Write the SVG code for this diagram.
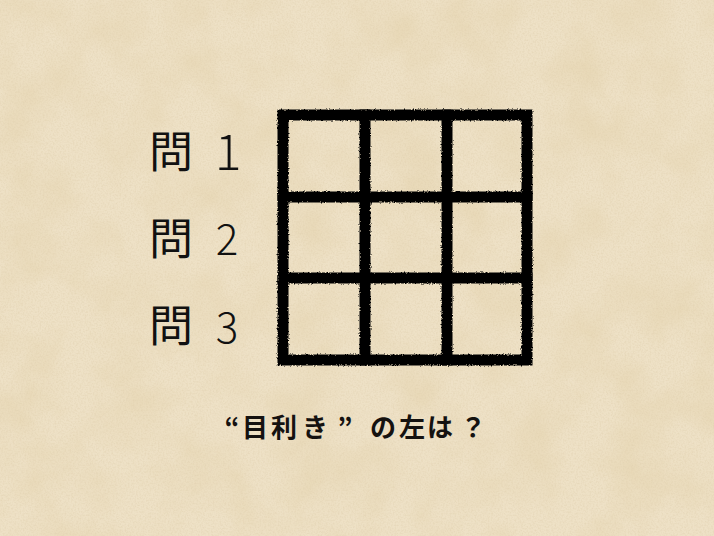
<svg xmlns="http://www.w3.org/2000/svg" width="714" height="536" viewBox="0 0 714 536">
  <defs>
    <filter id="paper" x="0" y="0" width="100%" height="100%">
      <feTurbulence type="fractalNoise" baseFrequency="0.018" numOctaves="4" seed="7" result="n1"/>
      <feColorMatrix in="n1" type="matrix" values="0 0 0 0 0.80  0 0 0 0 0.68  0 0 0 0 0.46  1.7 0 0 0 -0.64" result="c1"/>
      <feTurbulence type="fractalNoise" baseFrequency="0.6" numOctaves="2" seed="3" result="n2"/>
      <feColorMatrix in="n2" type="matrix" values="0 0 0 0 0.72  0 0 0 0 0.60  0 0 0 0 0.40  0.9 0 0 0 -0.35" result="c2"/>
      <feMerge>
        <feMergeNode in="c1"/>
        <feMergeNode in="c2"/>
      </feMerge>
    </filter>
    <filter id="rough" x="-5%" y="-5%" width="110%" height="110%">
      <feTurbulence type="fractalNoise" baseFrequency="0.7" numOctaves="2" seed="5" result="t"/>
      <feDisplacementMap in="SourceGraphic" in2="t" scale="3" xChannelSelector="R" yChannelSelector="G"/>
    </filter>
    <style>
      .ln { stroke: #000; stroke-width: 11; fill: none; stroke-linecap: square; }
      .q { font-family: "Noto Sans CJK JP", "Noto Sans CJK SC", sans-serif; font-size: 44px; fill: #111; text-anchor: middle; }
      .num { font-family: "Noto Sans CJK JP", "Noto Sans", sans-serif; font-weight: 300; font-size: 42px; fill: #111; text-anchor: middle; }
      .big { font-size: 50px; }
      .cap { font-family: "Noto Sans CJK JP", "Noto Sans CJK SC", sans-serif; font-weight: 700; font-size: 26px; fill: #151210; text-anchor: middle; }
    </style>
  </defs>

  <rect x="0" y="0" width="714" height="536" fill="#eee1c6"/>
  <rect x="0" y="0" width="714" height="536" filter="url(#paper)"/>

  <g id="grid" filter="url(#rough)">
    <rect class="ln" x="283" y="115" width="244" height="245"/>
    <line class="ln" x1="365" y1="115" x2="365" y2="360"/>
    <line class="ln" x1="447" y1="115" x2="447" y2="360"/>
    <line class="ln" x1="283" y1="197" x2="527" y2="197"/>
    <line class="ln" x1="283" y1="278" x2="527" y2="278"/>
  </g>

  <g id="label1">
    <text class="q" x="171" y="168">問</text>
    <text class="num big" x="228" y="170">1</text>
  </g>
  <g id="label2">
    <text class="q" x="171" y="255">問</text>
    <text class="num" x="227" y="255">2</text>
  </g>
  <g id="label3">
    <text class="q" x="171" y="342">問</text>
    <text class="num" x="227" y="343">3</text>
  </g>

  <g id="caption">
    <text class="cap" x="232 255 284 315 345 383 412 440 473" y="437">“目利き”の左は？</text>
  </g>
</svg>
